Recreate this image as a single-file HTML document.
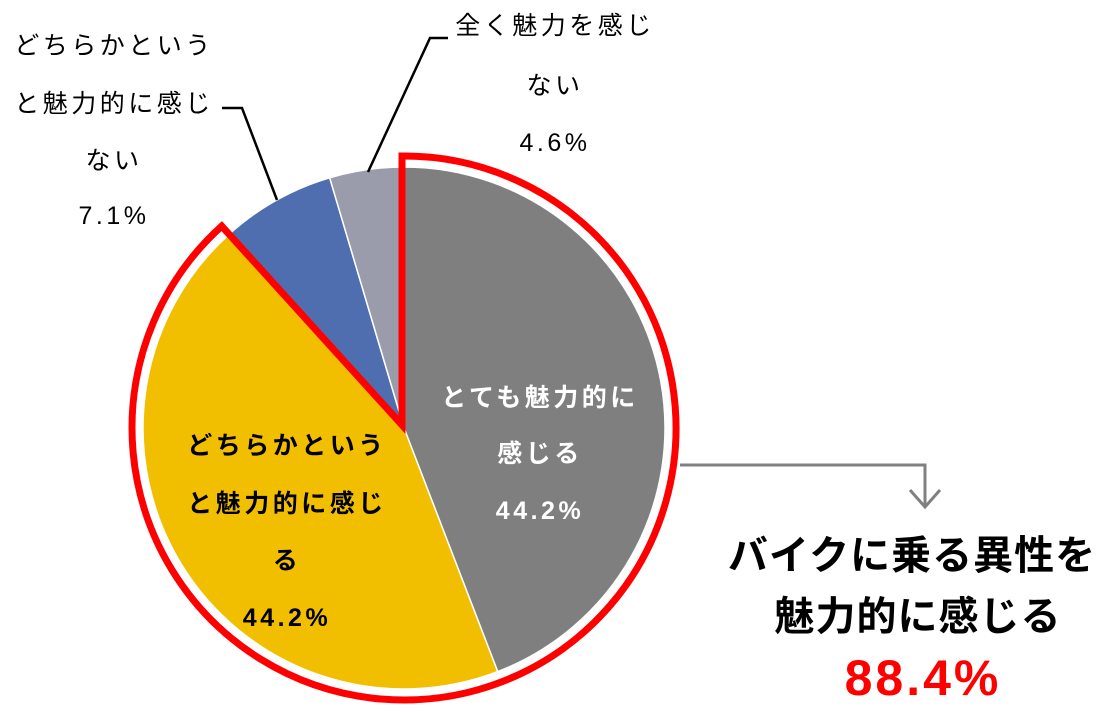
<!DOCTYPE html>
<html><head><meta charset="utf-8">
<style>
html,body{margin:0;padding:0;background:#fff;}
svg text{font-family:"Liberation Sans","Noto Sans CJK JP",sans-serif;}
</style></head>
<body>
<svg id="chart" width="1116" height="707" viewBox="0 0 1116 707" xmlns="http://www.w3.org/2000/svg">
<g id="slices"></g>
<path id="highlight" fill="none" stroke="#ff0000" stroke-width="7" stroke-linejoin="miter"/>
<g stroke="#000" stroke-width="2.5" fill="none">
<polyline points="277,200 242,108 222,108"/>
<polyline points="368,172 430,38 448,38"/>
</g>
<g stroke="#808080" stroke-width="3" fill="none">
<polyline points="680,465 925,465 925,505"/>
<polyline points="910,490 925,507 940,490"/>
</g>
<g id="labels"></g>
<g text-anchor="middle" font-weight="bold">
<text x="912" y="569" font-size="40" fill="#000" letter-spacing="1">バイクに乗る異性を</text>
<text x="918" y="630" font-size="40" fill="#000" letter-spacing="1">魅力的に感じる</text>
<text x="923" y="695" font-size="50" fill="#ff0000" letter-spacing="3">88.4%</text>
</g>
</svg>
<script>
const categories=["とても魅力的に感じる","どちらかというと魅力的に感じる","どちらかというと魅力的に感じない","全く魅力を感じない"];
const values=[44.2,44.2,7.1,4.6];
const colors=["#7f7f7f","#f2bf00","#4f6eb0","#9a9bab"];
const cx=404,cy=428,r=261;
const ns="http://www.w3.org/2000/svg";
const total=values.reduce((a,b)=>a+b,0);
function pt(frac,rad){const a=frac*2*Math.PI;return [cx+rad*Math.sin(a),cy-rad*Math.cos(a)];}
const g=document.getElementById('slices');
let acc=0;
values.forEach((v,i)=>{
 const f0=acc/total,f1=(acc+v)/total;acc+=v;
 const p0=pt(f0,r),p1=pt(f1,r);
 const large=(f1-f0)>0.5?1:0;
 const p=document.createElementNS(ns,'path');
 p.setAttribute('d',`M${cx},${cy}L${p0[0]},${p0[1]}A${r},${r} 0 ${large} 1 ${p1[0]},${p1[1]}Z`);
 p.setAttribute('fill',colors[i]);
 p.setAttribute('stroke','#fff');p.setAttribute('stroke-width','1.5');
 
 
 g.appendChild(p);
});
const hf=(values[0]+values[1])/total, R=272;
const h0=pt(0,R),h1=pt(hf,R);
document.getElementById('highlight').setAttribute('d',`M${cx-2},${cy-3}L${h0[0]-2},${h0[1]}A${R},${R} 0 1 1 ${h1[0]},${h1[1]}Z`);
const L=document.getElementById('labels');
const labelLines=[
 [["とても魅力的に","感じる",values[0].toFixed(1)+"%"],540,[397,453,510],"#fff","bold"],
 [["どちらかという","と魅力的に感じ","る",values[1].toFixed(1)+"%"],287,[445,503,560,617],"#000","bold"],
 [["どちらかという","と魅力的に感じ","ない",values[2].toFixed(1)+"%"],114,[45,103,160,215],"#000","normal"],
 [["全く魅力を感じ","ない",values[3].toFixed(1)+"%"],555,[25,85,142],"#000","normal"]
];
labelLines.forEach((lab,i)=>{
 const t=document.createElementNS(ns,'text');
 
 
 t.setAttribute('text-anchor','middle');t.setAttribute('font-size','25');
 t.setAttribute('letter-spacing','3.5');
 t.setAttribute('fill',lab[3]);t.setAttribute('font-weight',lab[4]);
 lab[0].forEach((s,j)=>{const ts=document.createElementNS(ns,'tspan');ts.setAttribute('x',lab[1]);ts.setAttribute('y',lab[2][j]+9);ts.textContent=s;t.appendChild(ts);});
 L.appendChild(t);
});
</script>
</body></html>
